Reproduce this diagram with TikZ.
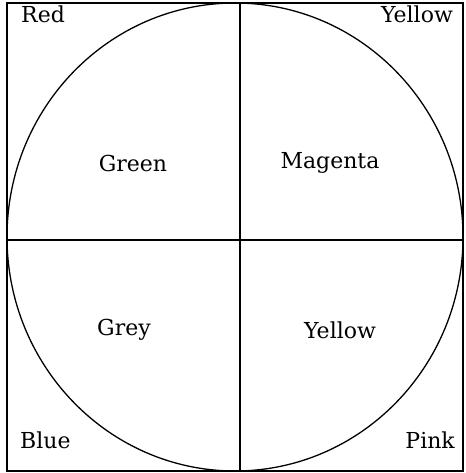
\documentclass[tikz,border=0pt]{standalone}
\usepackage{fontspec}
\setmainfont{DejaVu Serif}
\begin{document}
\begin{tikzpicture}[x=1pt,y=-1pt,
  frame/.style={line width=1.3pt},
  lbl/.style={font=\fontsize{22}{26}\selectfont, inner sep=0pt}]
\useasboundingbox (0,0) rectangle (465,473);
\coordinate (tl) at (7,3);
\coordinate (br) at (463,471);
\coordinate (c) at (235,237);
\coordinate (top) at (240,3);
\coordinate (bot) at (240,471);
\coordinate (lft) at (7,240);
\coordinate (rgt) at (463,240);
\draw[frame] (tl) rectangle (br);
\draw[frame] (c) ellipse [x radius=228, y radius=234];
\draw[frame] (top) -- (bot);
\draw[frame] (lft) -- (rgt);
\node[lbl, anchor=base west] (red) at (21,23) {Red};
\node[lbl, anchor=base east] (yel1) at (453,23) {Yellow};
\node[lbl, anchor=base west] (blue) at (20,448) {Blue};
\node[lbl, anchor=base east] (pink) at (455,448) {Pink};
\node[lbl] (green) at (133,163) {Green};
\node[lbl] (mag) at (330,163) {Magenta};
\node[lbl] (grey) at (124,330) {Grey};
\node[lbl] (yel2) at (340,330) {Yellow};
\end{tikzpicture}
\end{document}
